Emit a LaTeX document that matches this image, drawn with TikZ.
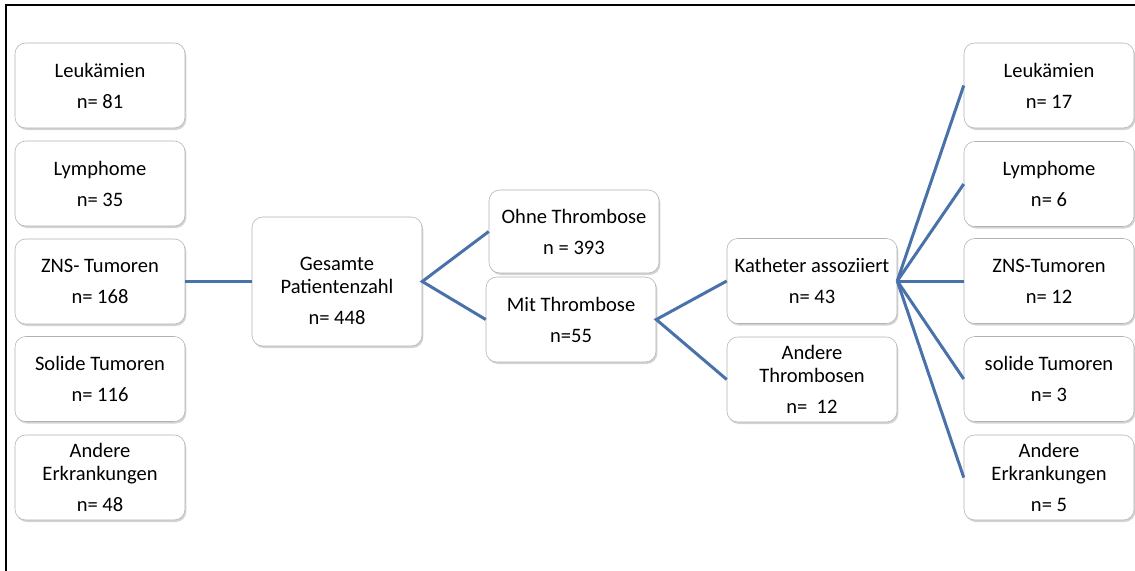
\documentclass[tikz,border=0pt]{standalone}
\usepackage{fontspec}
\setmainfont{Carlito}
\usetikzlibrary{shadows}

\definecolor{linkblue}{RGB}{74,114,170}
\tikzset{
  box/.style={draw=gray!60, rounded corners=8pt, fill=white, align=center,
    minimum width=127.5pt, minimum height=63.75pt, inner sep=2pt,
    font=\fontsize{15.4}{17.25}\selectfont,
    drop shadow={shadow xshift=1pt, shadow yshift=-1.5pt, opacity=0.35, fill=gray}},
  conn/.style={draw=linkblue, line width=2.25pt}
}

\begin{document}
\begin{tikzpicture}[x=0.75pt, y=-0.75pt]
  \useasboundingbox (0,0) rectangle (1135,571);
  % Rahmen
  \draw[line width=1.5pt] (6,571) -- (6,5) -- (1135,5);

  % linke Spalte
  \node[box] (l1) at (100,85.5) {Leukämien\\[6pt]n= 81};
  \node[box] (l2) at (100,183.5) {Lymphome\\[6pt]n= 35};
  \node[box] (l3) at (100,281.5) {ZNS- Tumoren\\[6pt]n= 168};
  \node[box] (l4) at (100,379) {Solide Tumoren\\[6pt]n= 116};
  \node[box] (l5) at (100,477.5) {Andere\\Erkrankungen\\[6pt]n= 48};

  % Mitte
  \node[box, minimum height=96.75pt] (gesamt) at (337,281.5) {\mbox{}\\[7pt]Gesamte\\Patientenzahl\\[6pt]n= 448};
  \node[box, minimum height=62.25pt] (ohne) at (574,231.5) {Ohne Thrombose\\[6pt]n = 393};
  \node[box] (mit) at (571,319.5) {Mit Thrombose\\[6pt]n=55};
  \node[box] (kath) at (812,281) {Katheter assoziiert\\[6pt]n= 43};
  \node[box] (andthr) at (812,379.5) {Andere\\Thrombosen\\[6pt]n=~~12};

  % rechte Spalte
  \node[box] (r1) at (1049,85.5) {Leukämien\\[6pt]n= 17};
  \node[box] (r2) at (1049,184) {Lymphome\\[6pt]n= 6};
  \node[box] (r3) at (1049,281) {ZNS-Tumoren\\[6pt]n= 12};
  \node[box] (r4) at (1049,379) {solide Tumoren\\[6pt]n= 3};
  \node[box] (r5) at (1049,477.5) {Andere\\Erkrankungen\\[6pt]n= 5};

  % Verbindungen
  \draw[conn] (l3.east) -- (gesamt.west);
  \draw[conn] (ohne.west) -- (gesamt.east) -- (mit.west);
  \draw[conn] (kath.west) -- (mit.east) -- (andthr.west);
  \foreach \i in {1,...,5}
    \draw[conn] (kath.east) -- (r\i.west);
\end{tikzpicture}
\end{document}
